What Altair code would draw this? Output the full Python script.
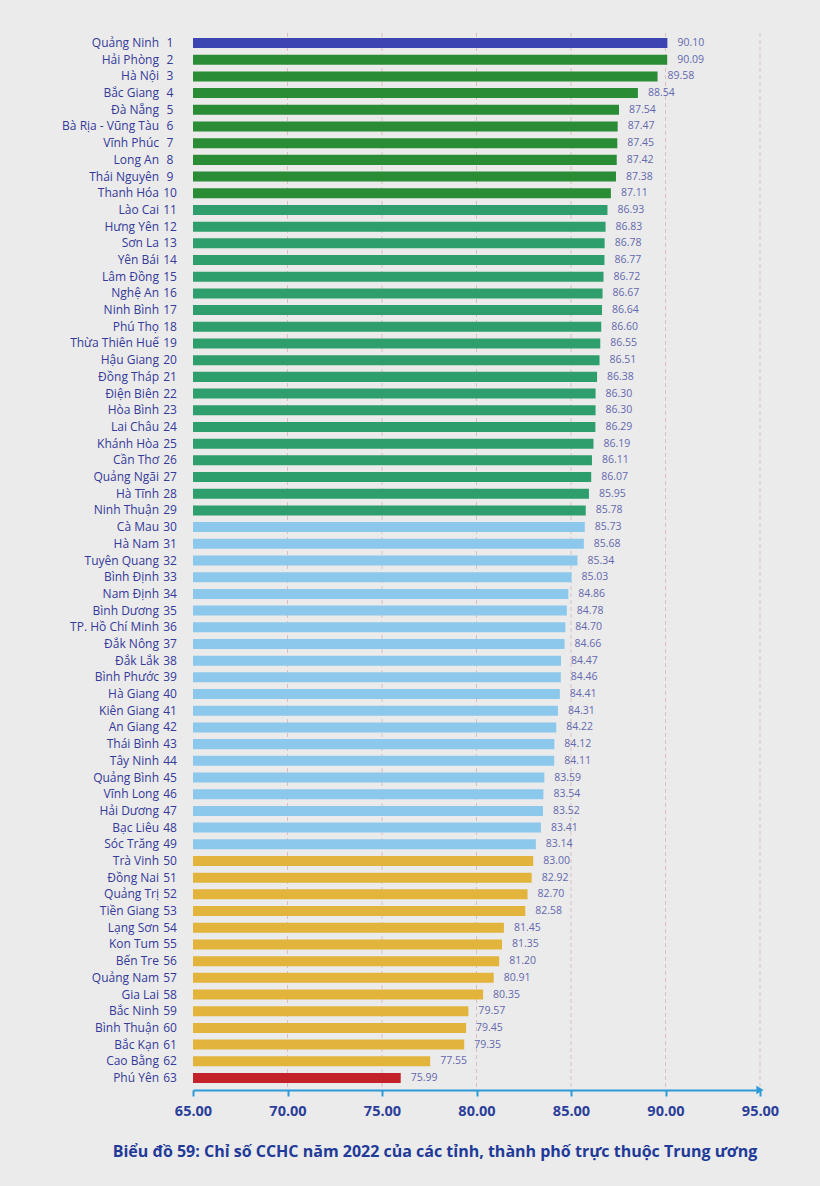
import altair as alt
import pandas as pd

names = ["Quảng Ninh", "Hải Phòng", "Hà Nội", "Bắc Giang", "Đà Nẵng", "Bà Rịa - Vũng Tàu",
         "Vĩnh Phúc", "Long An", "Thái Nguyên", "Thanh Hóa", "Lào Cai", "Hưng Yên", "Sơn La",
         "Yên Bái", "Lâm Đồng", "Nghệ An", "Ninh Bình", "Phú Thọ", "Thừa Thiên Huế", "Hậu Giang",
         "Đồng Tháp", "Điện Biên", "Hòa Bình", "Lai Châu", "Khánh Hòa", "Cần Thơ", "Quảng Ngãi",
         "Hà Tĩnh", "Ninh Thuận", "Cà Mau", "Hà Nam", "Tuyên Quang", "Bình Định", "Nam Định",
         "Bình Dương", "TP. Hồ Chí Minh", "Đắk Nông", "Đắk Lắk", "Bình Phước", "Hà Giang",
         "Kiên Giang", "An Giang", "Thái Bình", "Tây Ninh", "Quảng Bình", "Vĩnh Long", "Hải Dương",
         "Bạc Liêu", "Sóc Trăng", "Trà Vinh", "Đồng Nai", "Quảng Trị", "Tiền Giang", "Lạng Sơn",
         "Kon Tum", "Bến Tre", "Quảng Nam", "Gia Lai", "Bắc Ninh", "Bình Thuận", "Bắc Kạn",
         "Cao Bằng", "Phú Yên"]
values = [90.10, 90.09, 89.58, 88.54, 87.54, 87.47, 87.45, 87.42, 87.38, 87.11,
          86.93, 86.83, 86.78, 86.77, 86.72, 86.67, 86.64, 86.60, 86.55, 86.51,
          86.38, 86.30, 86.30, 86.29, 86.19, 86.11, 86.07, 85.95, 85.78, 85.73,
          85.68, 85.34, 85.03, 84.86, 84.78, 84.70, 84.66, 84.47, 84.46, 84.41,
          84.31, 84.22, 84.12, 84.11, 83.59, 83.54, 83.52, 83.41, 83.14, 83.00,
          82.92, 82.70, 82.58, 81.45, 81.35, 81.20, 80.91, 80.35, 79.57, 79.45,
          79.35, 77.55, 75.99]
groups = (["A"] * 1 + ["B"] * 9 + ["C"] * 19 + ["D"] * 20 + ["E"] * 13 + ["F"] * 1)
group_domain = ["A", "B", "C", "D", "E", "F"]
group_colors = ["#3C45B2", "#2B8C36", "#2E9F6C", "#8CC8EC", "#E2B43C", "#C4222B"]
grid_values = [70, 75, 80, 85, 90, 95]
tick_values = [65, 70, 75, 80, 85, 90, 95]
axis_min = 65
title_text = "Biểu đồ 59: Chỉ số CCHC năm 2022 của các tỉnh, thành phố trực thuộc Trung ương"

df = pd.DataFrame({
    "rank": list(range(1, len(names) + 1)),
    "name": names,
    "value": values,
    "group": groups,
})
df["base"] = axis_min
df["label"] = df["value"].map(lambda v: f"{v:.2f}")
grid_df = pd.DataFrame({"g": grid_values})

W, H = 567, 1055
FONT = "Open Sans"

xscale = alt.Scale(domain=[65, 95], nice=False, zero=False)
yscale = alt.Scale(paddingInner=0.4, paddingOuter=0.3)
ysort = alt.EncodingSortField(field="rank", order="ascending")

grid = alt.Chart(grid_df).mark_rule(color="#D9BFC4", strokeDash=[4, 3], strokeWidth=1).encode(
    x=alt.X("g:Q", scale=xscale, axis=alt.Axis(
        values=tick_values, format=".2f", domainColor="#2E9AD8", domainWidth=2,
        tickColor="#2E9AD8", tickWidth=2, tickSize=6, grid=False, labelFlush=False,
        labelFont=FONT, labelFontSize=14.5, labelFontWeight="bold", labelColor="#2B3F9A",
        labelPadding=8, title=None, offset=2)),
    y=alt.value(0), y2=alt.value(H),
)

bars = alt.Chart(df).mark_bar(cornerRadius=0).encode(
    x=alt.X("base:Q", scale=xscale),
    x2="value:Q",
    y=alt.Y("rank:O", sort=ysort, scale=yscale, axis=None),
    color=alt.Color("group:N", scale=alt.Scale(domain=group_domain, range=group_colors), legend=None),
)

vals = alt.Chart(df).mark_text(align="left", dx=10, font=FONT, fontSize=10.5, color="#6468AE").encode(
    x=alt.X("value:Q", scale=xscale),
    y=alt.Y("rank:O", sort=ysort, scale=yscale, axis=None),
    text="label:N",
)

name_txt = alt.Chart(df).mark_text(align="right", font=FONT, fontSize=12, color="#34399A").encode(
    x=alt.value(-34),
    y=alt.Y("rank:O", sort=ysort, scale=yscale, axis=None),
    text="name:N",
)

rank_txt = alt.Chart(df).mark_text(align="center", font=FONT, fontSize=12, color="#34399A").encode(
    x=alt.value(-23),
    y=alt.Y("rank:O", sort=ysort, scale=yscale, axis=None),
    text="rank:O",
)

arrow = alt.Chart(pd.DataFrame({"g": [95]})).mark_point(
    shape="triangle-right", filled=True, color="#2E9AD8", size=70, opacity=1).encode(
    x=alt.X("g:Q", scale=xscale),
    y=alt.value(H + 2),
)

title = alt.Chart(pd.DataFrame({"t": [title_text]})).mark_text(
    align="center", font=FONT, fontSize=16, fontWeight="bold", color="#1F3A98").encode(
    x=alt.value(242), y=alt.value(H + 64), text="t:N")

chart = alt.layer(grid, bars, vals, name_txt, rank_txt, arrow, title).properties(
    width=W, height=H,
    autosize=alt.AutoSizeParams(type="none"),
    padding={"left": 193, "top": 33, "right": 60, "bottom": 98},
    background="#EBEBEB",
).configure_view(stroke=None)

chart.save("out.html", embed_options={"renderer": "svg", "actions": False})
